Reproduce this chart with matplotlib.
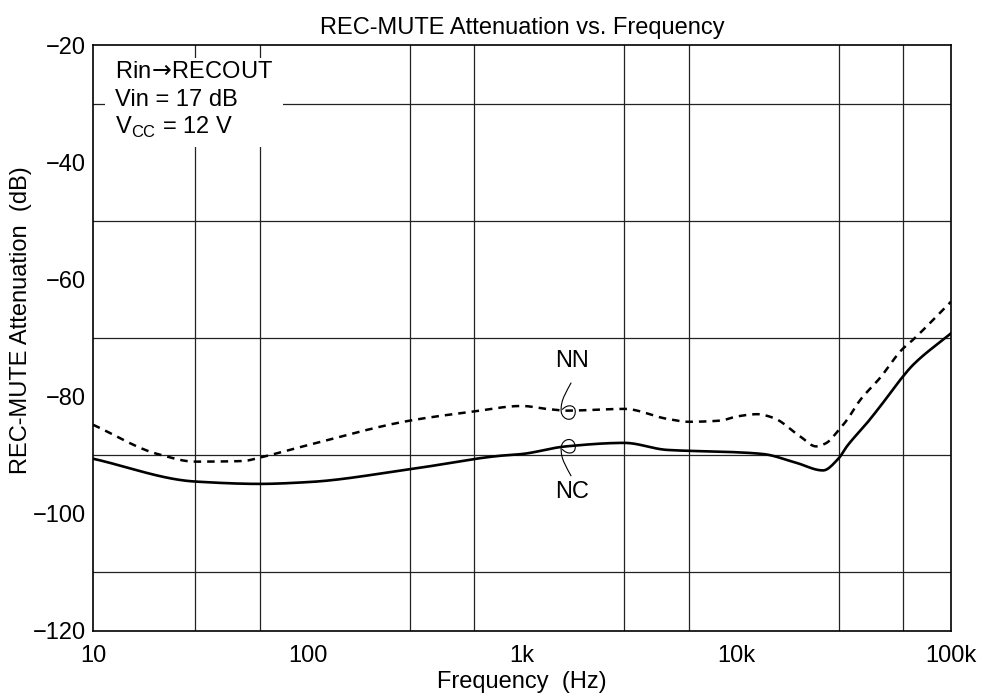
import numpy as np
import matplotlib
matplotlib.use("Agg")
import matplotlib.pyplot as plt
from matplotlib.path import Path
from matplotlib.patches import PathPatch, Rectangle
from matplotlib.ticker import FixedLocator, FixedFormatter, NullFormatter

plt.rcParams['font.family'] = ['Liberation Sans', 'DejaVu Sans']
plt.rcParams['mathtext.fontset'] = 'custom'
plt.rcParams['mathtext.rm'] = 'Liberation Sans'
plt.rcParams['axes.unicode_minus'] = True

# NC curve (solid)
nc_freq = [10, 30, 60, 100, 300, 790, 1000, 1600, 3000, 4750, 10000,
           13300, 19000, 25300, 30000, 32700, 40600, 46700, 59000, 66500, 100000]
nc_atten = [-90.6, -94.5, -94.9, -94.6, -92.4, -90.1, -89.8, -88.5, -87.9, -89.1, -89.5,
            -89.8, -91.3, -92.6, -90.5, -88.5, -84.5, -81.7, -76.8, -74.6, -69.2]

# NN curve (dashed)
nn_freq = [10, 20, 30, 50, 60, 100, 300, 580, 1000, 1300, 1600, 3000, 4750, 6000,
           8400, 10000, 12500, 14800, 19800, 23500, 26000, 30000, 32700, 37700, 46700,
           59000, 66500, 100000]
nn_atten = [-84.8, -89.8, -91.1, -91.0, -90.4, -88.3, -84.1, -82.6, -81.6, -82.1, -82.4,
            -82.1, -83.8, -84.3, -84.1, -83.4, -83.0, -83.6, -86.8, -88.5, -88.0, -85.7,
            -84.0, -80.6, -76.8, -72.0, -70.3, -63.8]

x_grid = [10, 30, 60, 100, 300, 600, 1000, 3000, 6000, 10000, 30000, 60000, 100000]
x_ticks = [10, 100, 1000, 10000, 100000]
x_labels = ['10', '100', '1k', '10k', '100k']
y_ticks = list(range(-120, -19, 20))

FS = 17


def pchip(f, v, n=600):
    # monotone cubic through the read points, in log-frequency
    x = np.log10(np.asarray(f, float))
    y = np.asarray(v, float)
    h = np.diff(x)
    d = np.diff(y) / h
    m = np.zeros_like(y)
    for k in range(1, len(y) - 1):
        if d[k - 1] * d[k] > 0:
            w1 = 2 * h[k] + h[k - 1]
            w2 = h[k] + 2 * h[k - 1]
            m[k] = (w1 + w2) / (w1 / d[k - 1] + w2 / d[k])
    m[0] = d[0]
    m[-1] = d[-1]
    xs = np.linspace(x[0], x[-1], n)
    idx = np.clip(np.searchsorted(x, xs) - 1, 0, len(h) - 1)
    t = (xs - x[idx]) / h[idx]
    h00 = 2 * t ** 3 - 3 * t ** 2 + 1
    h10 = t ** 3 - 2 * t ** 2 + t
    h01 = -2 * t ** 3 + 3 * t ** 2
    h11 = t ** 3 - t ** 2
    ys = h00 * y[idx] + h10 * h[idx] * m[idx] + h01 * y[idx + 1] + h11 * h[idx] * m[idx + 1]
    return 10 ** xs, ys


fig = plt.figure(figsize=(9.86, 7.0), dpi=100)
ax = fig.add_axes([0.0943, 0.0986, 0.8702, 0.8371])
ax.set_xscale('log')
ax.set_xlim(10, 100000)
ax.set_ylim(-120, -20)

ax.xaxis.set_major_locator(FixedLocator(x_ticks))
ax.xaxis.set_major_formatter(FixedFormatter(x_labels))
ax.xaxis.set_minor_locator(FixedLocator(x_grid))
ax.xaxis.set_minor_formatter(NullFormatter())
ax.set_yticks(y_ticks)
ax.set_yticklabels([f"\u2212{abs(v)}" for v in y_ticks])
ax.yaxis.set_minor_locator(FixedLocator(list(range(-120, -19, 10))))
ax.tick_params(which='both', length=0, labelsize=FS)
ax.tick_params(axis='x', pad=10)
ax.tick_params(axis='y', pad=5)

ax.grid(True, which='minor', color='#222222', linewidth=0.9)
ax.set_axisbelow(True)
for s in ax.spines.values():
    s.set_linewidth(1.2)

xs, ys = pchip(nn_freq, nn_atten)
ax.plot(xs, ys, color='black', linewidth=1.8, linestyle=(0, (3, 2.4)), zorder=3)
xs, ys = pchip(nc_freq, nc_atten)
ax.plot(xs, ys, color='black', linewidth=1.9, zorder=3)

# condition box
ax.add_patch(Rectangle((0.014, 0.826), 0.207, 0.152, transform=ax.transAxes,
                       facecolor='white', edgecolor='none', zorder=2))
cond = [r"Rin$\!\rightarrow\!$RECOUT", "Vin = 17 dB", r"V$_{\mathrm{CC}}$ = 12 V"]
math_fonts = ['dejavusans', 'custom', 'custom']
for i, line in enumerate(cond):
    ax.text(0.026, 0.954 - i * 0.047, line, transform=ax.transAxes, fontsize=FS,
            va='center', ha='left', zorder=4, math_fontfamily=math_fonts[i])

# curve labels with loop leaders
fig.canvas.draw()


def loop(anchor, flip):
    px, py = ax.transData.transform(anchor)
    s = -1 if flip else 1
    verts = [(2, 28), (-2, 20), (-9, 11), (-8, -1), (-7, -10), (5, -12), (6, -2),
             (7, 6), (-2, 7), (-7, 1)]
    verts = [(px + a, py + s * b) for a, b in verts]
    codes = [Path.MOVETO] + [Path.CURVE4] * 9
    ax.add_patch(PathPatch(Path(verts, codes), transform=None, facecolor='none',
                           edgecolor='black', linewidth=0.8, zorder=4))


loop((1660, -82.4), False)
loop((1660, -88.8), True)
ax.text(1710, -74.0, "NN", fontsize=FS, ha='center', va='center')
ax.text(1710, -96.3, "NC", fontsize=FS, ha='center', va='center')

ax.set_title("REC-MUTE Attenuation vs. Frequency", fontsize=FS, pad=8)
ax.set_xlabel("Frequency  (Hz)", fontsize=FS, labelpad=3)
ax.set_ylabel("REC-MUTE Attenuation  (dB)", fontsize=FS)
ax.yaxis.set_label_coords(-0.071, 0.531)

fig.savefig("out.png", dpi=100)
